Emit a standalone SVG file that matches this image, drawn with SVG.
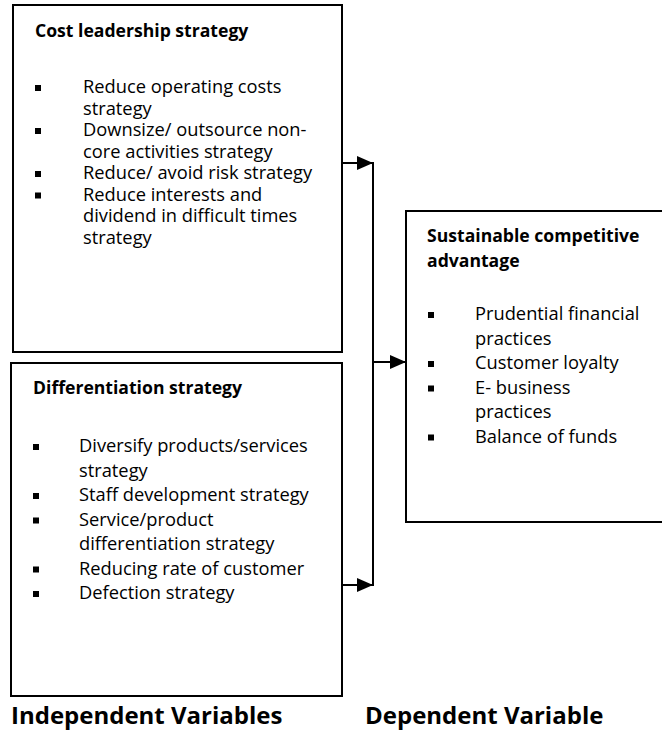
<svg xmlns="http://www.w3.org/2000/svg" width="662" height="732" viewBox="0 0 662 732">
  <style>
    .box { fill: #ffffff; stroke: #000000; stroke-width: 2; }
    .wire { fill: none; stroke: #000000; stroke-width: 2; }
    .t { font-family: "Open Sans", "Noto Sans", "Liberation Sans", sans-serif; font-size: 18.3px; fill: #000000; }
    .h { font-weight: bold; font-size: 17.6px; }
    .lbl { font-family: "Open Sans", "Noto Sans", "Liberation Sans", sans-serif; font-size: 24px; font-weight: bold; fill: #000000; }
    .dot { fill: #000000; }
  </style>
  <defs>
    <marker id="arrow" viewBox="0 0 16 14" refX="16" refY="7" markerWidth="16" markerHeight="14" markerUnits="userSpaceOnUse" orient="auto">
      <path d="M0,0 L16,7 L0,14 Z" fill="#000000"/>
    </marker>
  </defs>

  <!-- Independent variable: cost leadership -->
  <g id="cost-leadership">
    <rect class="box" x="13" y="5" width="329" height="347"/>
    <text class="t h" x="35" y="37">Cost leadership strategy</text>
    <rect class="dot" x="35" y="85" width="6" height="6"/>
    <text class="t" x="83" y="93">Reduce operating costs</text>
    <text class="t" x="83" y="114.5">strategy</text>
    <rect class="dot" x="35" y="128" width="6" height="6"/>
    <text class="t" x="83" y="136">Downsize/ outsource non-</text>
    <text class="t" x="83" y="157.5">core activities strategy</text>
    <rect class="dot" x="35" y="171" width="6" height="6"/>
    <text class="t" x="83" y="179">Reduce/ avoid risk strategy</text>
    <rect class="dot" x="35" y="192.5" width="6" height="6"/>
    <text class="t" x="83" y="200.5">Reduce interests and</text>
    <text class="t" x="83" y="222">dividend in difficult times</text>
    <text class="t" x="83" y="243.5">strategy</text>
  </g>

  <!-- Independent variable: differentiation -->
  <g id="differentiation">
    <rect class="box" x="11" y="363" width="331" height="333"/>
    <text class="t h" x="33" y="394">Differentiation strategy</text>
    <rect class="dot" x="33" y="444" width="6" height="6"/>
    <text class="t" x="79" y="452">Diversify products/services</text>
    <text class="t" x="79" y="476.5">strategy</text>
    <rect class="dot" x="33" y="493" width="6" height="6"/>
    <text class="t" x="79" y="501">Staff development strategy</text>
    <rect class="dot" x="33" y="517.5" width="6" height="6"/>
    <text class="t" x="79" y="525.5">Service/product</text>
    <text class="t" x="79" y="550">differentiation strategy</text>
    <rect class="dot" x="33" y="566.5" width="6" height="6"/>
    <text class="t" x="79" y="574.5">Reducing rate of customer</text>
    <rect class="dot" x="33" y="591" width="6" height="6"/>
    <text class="t" x="79" y="599">Defection strategy</text>
  </g>

  <!-- Dependent variable -->
  <g id="competitive-advantage">
    <rect class="box" x="406" y="211" width="262" height="311"/>
    <text class="t h" x="427" y="242">Sustainable competitive</text>
    <text class="t h" x="427" y="266.5">advantage</text>
    <rect class="dot" x="428" y="312" width="6" height="6"/>
    <text class="t" x="475" y="320">Prudential financial</text>
    <text class="t" x="475" y="344.5">practices</text>
    <rect class="dot" x="428" y="361" width="6" height="6"/>
    <text class="t" x="475" y="369">Customer loyalty</text>
    <rect class="dot" x="428" y="385.5" width="6" height="6"/>
    <text class="t" x="475" y="393.5">E- business</text>
    <text class="t" x="475" y="418">practices</text>
    <rect class="dot" x="428" y="434.5" width="6" height="6"/>
    <text class="t" x="475" y="442.5">Balance of funds</text>
  </g>

  <!-- Connectors -->
  <g id="connectors">
    <line class="wire" x1="342" y1="163" x2="373" y2="163" marker-end="url(#arrow)"/>
    <line class="wire" x1="342" y1="585" x2="373" y2="585" marker-end="url(#arrow)"/>
    <line class="wire" x1="373" y1="162" x2="373" y2="586"/>
    <line class="wire" x1="373" y1="362" x2="406" y2="362" marker-end="url(#arrow)"/>
  </g>

  <!-- Column captions -->
  <g id="captions">
    <text class="lbl" x="11" y="724">Independent Variables</text>
    <text class="lbl" x="365" y="724">Dependent Variable</text>
  </g>
</svg>
